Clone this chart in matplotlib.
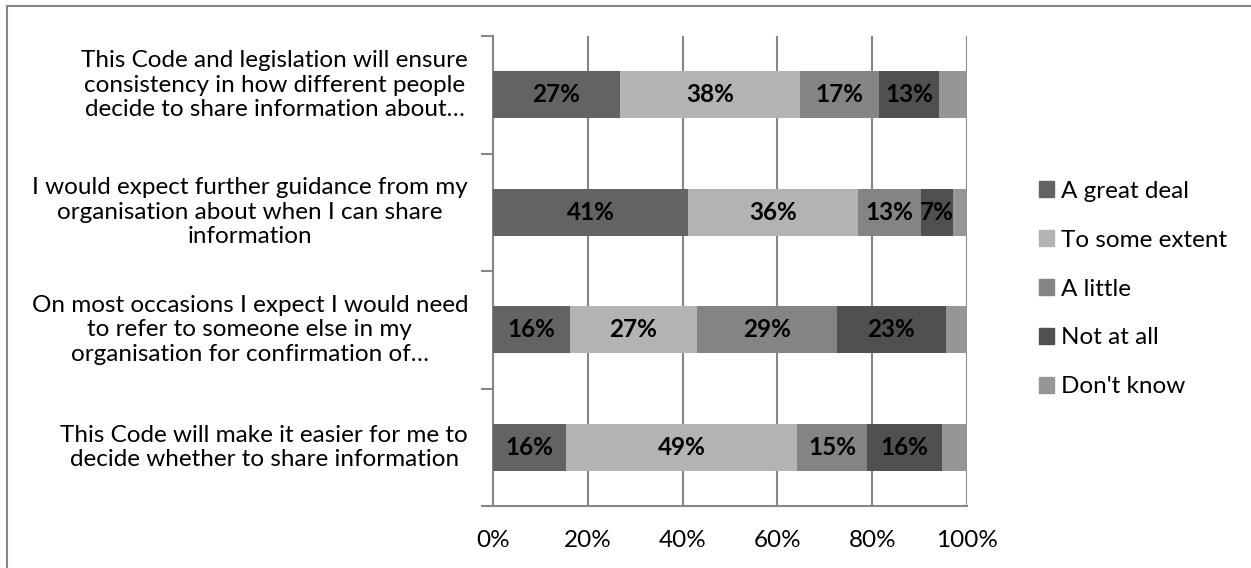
import matplotlib
matplotlib.use("Agg")
import matplotlib.pyplot as plt
import numpy as np
from matplotlib.patches import Rectangle
from matplotlib.lines import Line2D

categories = [
    "This Code and legislation will ensure\nconsistency in how different people\ndecide to share information about\u2026",
    "I would expect further guidance from my\norganisation about when I can share\ninformation",
    "On most occasions I expect I would need\nto refer to someone else in my\norganisation for confirmation of\u2026",
    "This Code will make it easier for me to\ndecide whether to share information",
]
series_names = ["A great deal", "To some extent", "A little", "Not at all", "Don't know"]
great_deal = [26.8, 41.2, 16.2, 15.4]
some_extent = [38.0, 35.9, 26.9, 48.7]
a_little = [16.6, 13.1, 29.4, 14.9]
not_at_all = [12.7, 6.9, 23.0, 15.7]
dont_know = [5.9, 2.9, 4.5, 5.3]
label_texts = [["27%", "41%", "16%", "16%"],
               ["38%", "36%", "27%", "49%"],
               ["17%", "13%", "29%", "15%"],
               ["13%", "7%", "23%", "16%"],
               None]
xtick_labels = ["0%", "20%", "40%", "60%", "80%", "100%"]

colors = ["#636363", "#b3b3b3", "#848484", "#505050", "#969696"]
FONT = ["Lato", "DejaVu Sans"]
plt.rcParams['font.family'] = FONT
FS = 17.5

fig = plt.figure(figsize=(12.51, 5.68), dpi=100)
ax = fig.add_axes([493/1251, 1-506/568, 474/1251, 470/568])

y = np.arange(len(categories))[::-1]
series = [great_deal, some_extent, a_little, not_at_all, dont_know]
left = np.zeros(len(categories))
for vals, col, name, labs in zip(series, colors, series_names, label_texts):
    vals = np.array(vals)
    ax.barh(y, vals, left=left, height=0.4, color=col, label=name, zorder=3)
    if labs is not None:
        for yi, l, v, t in zip(y, left, vals, labs):
            ax.text(l + v/2, yi, t, ha="center", va="center", fontsize=FS,
                    fontweight="bold", color="black", zorder=4)
    left += vals

ax.set_xlim(0, 100)
ax.set_ylim(-0.5, len(categories) - 0.5)
ax.set_xticks(np.arange(0, 101, 20))
ax.set_xticklabels(xtick_labels, fontsize=FS)
ax.tick_params(axis="x", length=0, pad=17)
ax.set_yticks(y)
ax.set_yticklabels([])
ax.tick_params(axis="y", which="major", length=0)
# category labels (first one sits slightly higher, as in the original)
label_dy = [7, 0, 0, 0]
for yi, cat, dy in zip(y, categories, label_dy):
    ax.annotate(cat, xy=(0, yi), xycoords=("axes fraction", "data"),
                xytext=(-18, dy), textcoords="offset points",
                ha="right", va="center", multialignment="center",
                fontsize=FS, color="black")
ax.set_yticks(np.arange(-0.5, len(categories), 1.0), minor=True)
ax.tick_params(axis="y", which="minor", length=9, width=1.5, color="#868686")
ax.grid(axis="x", color="#868686", linewidth=1.5, zorder=0)
for s in ["top", "right"]:
    ax.spines[s].set_visible(False)
for s in ["left", "bottom"]:
    ax.spines[s].set_color("#868686")
    ax.spines[s].set_linewidth(1.5)

# legend
handles = [Rectangle((0, 0), 1, 1, color=c) for c in colors]
leg = fig.legend(handles, series_names, loc="center left",
                 bbox_to_anchor=(1039/1251, 1-289/568), frameon=False,
                 fontsize=FS, handlelength=0.62, handleheight=0.62,
                 handletextpad=0.3, labelspacing=1.15, borderpad=0,
                 borderaxespad=0)

# outer border (left and top)
fig.add_artist(Line2D([7/1251, 7/1251], [0, 1-6/568], transform=fig.transFigure,
                      color="#868686", linewidth=1.5))
fig.add_artist(Line2D([7/1251, 1], [1-6/568, 1-6/568], transform=fig.transFigure,
                      color="#868686", linewidth=1.5))

fig.savefig("out.png", dpi=100)
